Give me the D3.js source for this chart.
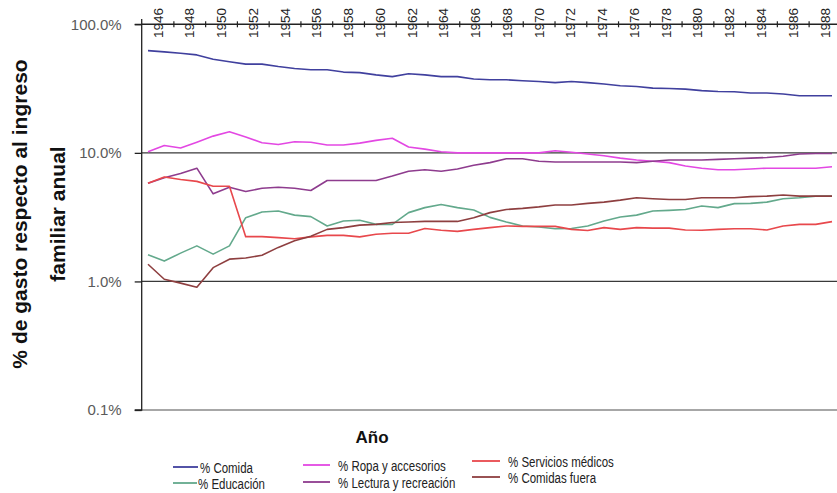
<!DOCTYPE html>
<html><head><meta charset="utf-8">
<script src="https://cdn.jsdelivr.net/npm/d3@7"></script>
<style>body{margin:0;background:#fff}svg{display:block}</style>
</head><body>
<script>
const years = [1946,1947,1948,1949,1950,1951,1952,1953,1954,1955,1956,1957,1958,1959,1960,1961,1962,1963,1964,1965,1966,1967,1968,1969,1970,1971,1972,1973,1974,1975,1976,1977,1978,1979,1980,1981,1982,1983,1984,1985,1986,1987,1988];
const yearLabels = [1946,1948,1950,1952,1954,1956,1958,1960,1962,1964,1966,1968,1970,1972,1974,1976,1978,1980,1982,1984,1986,1988];
const yTicks = [0.1,1,10,100];
const comida = [62.4,61.0,59.6,57.8,53.5,51.1,49.0,49.0,46.9,45.3,44.3, 44.3,42.5,42.1,40.4,39.2,41.2,40.4,39.2,39.2,37.5,37.0, 37.0,36.4,35.9,35.2,35.9,35.2,34.3,33.3,32.8,31.9, 31.7,31.3,30.5,30.0,29.9,29.2,29.2,28.7,27.8,27.8,27.8];
const ropa = [10.2,11.4,10.9,12.1,13.5,14.6,13.3,12.0,11.6,12.2,12.1, 11.5,11.5,11.9,12.5,13.0,11.1,10.7,10.2,10.0,10.0,10.0, 10.0,10.0,10.0,10.4,10.1,9.8,9.5,9.1,8.8,8.6, 8.4,7.9,7.6,7.4,7.4,7.5,7.6,7.6,7.6,7.6,7.8];
const servicios = [5.8,6.5,6.2,6.0,5.5,5.5,2.23,2.23,2.19,2.15,2.22, 2.28,2.28,2.22,2.33,2.37,2.37,2.58,2.50,2.45,2.54,2.62, 2.70,2.68,2.68,2.68,2.54,2.49,2.62,2.54,2.62,2.6, 2.6,2.51,2.5,2.54,2.57,2.57,2.51,2.70,2.78,2.78,2.92];
const educacion = [1.61,1.44,1.66,1.89,1.63,1.89,3.13,3.47,3.53,3.28,3.19, 2.70,2.95,2.99,2.78,2.78,3.43,3.75,3.97,3.75,3.59,3.15, 2.90,2.70,2.65,2.57,2.58,2.70,2.95,3.17,3.28,3.53, 3.57,3.63,3.86,3.75,4.03,4.05,4.14,4.40,4.48,4.61,4.61];
const lectura = [5.8,6.4,6.9,7.6,4.8,5.4,5.0,5.3,5.4,5.3,5.1, 6.1,6.1,6.1,6.1,6.6,7.2,7.4,7.2,7.5,8.0,8.4, 9.0,9.0,8.6,8.5,8.5,8.5,8.5,8.5,8.4,8.6, 8.8,8.8,8.8,8.9,9.0,9.1,9.2,9.4,9.8,9.9,9.9];
const comidasFuera = [1.36,1.04,0.97,0.90,1.28,1.49,1.52,1.60,1.84,2.07,2.25, 2.54,2.62,2.74,2.78,2.87,2.9,2.93,2.93,2.93,3.13,3.43, 3.63,3.7,3.8,3.93,3.93,4.05,4.14,4.29,4.48,4.4, 4.34,4.34,4.48,4.48,4.48,4.57,4.61,4.7,4.61,4.61,4.61];
const seriesNames = ["% Comida","% Educación","% Ropa y accesorios","% Lectura y recreación","% Servicios médicos","% Comidas fuera"];
const seriesColors = ["#40409e","#63a98c","#e348e3","#8e3c8e","#e8484c","#8e3f40"];

const W = 837, H = 493;
const svg = d3.select("body").append("svg").attr("width", W).attr("height", H);
const x = d3.scaleLinear().domain([1946,1988]).range([148,832]);
const xl = d3.scaleLinear().domain([1946,1988]).range([158,825]);
const y = d3.scaleLog().domain([0.1,100]).range([410,24.3]);
const L = 141.7, R = 837;

// gridlines
svg.append("g").selectAll("line").data([1,10]).join("line")
  .attr("x1", L).attr("x2", R).attr("y1", d=>y(d)).attr("y2", d=>y(d))
  .attr("stroke", "#3a3a3a").attr("stroke-width", 1.3);
// bottom line
svg.append("line").attr("x1", L).attr("x2", R).attr("y1", y(0.1)).attr("y2", y(0.1))
  .attr("stroke", "#8a8a8a").attr("stroke-width", 1.6);

// y axis
const yAxis = d3.axisLeft(y).tickValues(yTicks).tickFormat(d => d.toFixed(1) + "%").tickSize(7).tickPadding(13);
const gy = svg.append("g").attr("transform", `translate(${L},0)`).call(yAxis);
gy.select(".domain").attr("stroke", "#222").attr("stroke-width", 1.3).attr("d", `M-7,${y(100)}H0V${y(0.1)}H-7`);
gy.selectAll(".tick line").attr("stroke", "#222").attr("stroke-width", 1.3);
gy.selectAll(".tick text").attr("font-family", "Liberation Sans, Arial, sans-serif").attr("font-size", 15).attr("fill", "#5a5a5a");

// series
const data = [comida, educacion, ropa, lectura, servicios, comidasFuera];
const line = d3.line().x((d,i)=>x(years[i])).y(d=>y(d));
svg.append("g").selectAll("path").data(data).join("path")
  .attr("d", d=>line(d)).attr("fill","none")
  .attr("stroke", (d,i)=>seriesColors[i]).attr("stroke-width", 1.6).attr("stroke-linejoin","round");

// top axis
svg.append("line").attr("x1", L).attr("x2", R).attr("y1", y(100)).attr("y2", y(100))
  .attr("stroke", "#222").attr("stroke-width", 1.5);
svg.append("line").attr("x1", L).attr("x2", L).attr("y1", 19).attr("y2", y(100)).attr("stroke", "#222").attr("stroke-width", 1.3);
svg.append("g").selectAll("line").data(yearLabels.slice(0,-1)).join("line")
  .attr("x1", d=>xl(d+1)).attr("x2", d=>xl(d+1)).attr("y1", y(100)-3).attr("y2", y(100)+3)
  .attr("stroke", "#222").attr("stroke-width", 1.2);
svg.append("g").selectAll("text").data(yearLabels).join("text")
  .attr("transform", d=>`translate(${xl(d)},23) rotate(-90)`)
  .attr("text-anchor","middle").attr("dominant-baseline","central")
  .attr("font-family","Liberation Sans, Arial, sans-serif").attr("font-size", 13.5).attr("fill","#222")
  .text(d=>d);

// axis titles
const yt = svg.append("text").attr("transform","translate(27,214) rotate(-90)")
  .attr("text-anchor","middle").attr("font-family","Liberation Sans, Arial, sans-serif")
  .attr("font-weight","bold").attr("font-size",21).attr("fill","#111");
yt.append("tspan").attr("x",0).attr("y",0).text("% de gasto respecto al ingreso");
yt.append("tspan").attr("x",0).attr("y",38).text("familiar anual");
svg.append("text").attr("x",372).attr("y",443).attr("text-anchor","middle")
  .attr("font-family","Liberation Sans, Arial, sans-serif").attr("font-weight","bold")
  .attr("font-size",17).attr("fill","#111").text("Año");

// legend
const legPos = [[173,198,467,200],[173,197,483,198],[303,330,465,338],[303,330,482,338],[472,500,461,508],[472,500,477,508]];
const lg = svg.append("g").selectAll("g").data(seriesNames).join("g");
lg.append("line").attr("x1",(d,i)=>legPos[i][0]).attr("x2",(d,i)=>legPos[i][1])
  .attr("y1",(d,i)=>legPos[i][2]).attr("y2",(d,i)=>legPos[i][2])
  .attr("stroke",(d,i)=>seriesColors[i]).attr("stroke-width",1.8);
lg.append("text").attr("transform",(d,i)=>`translate(${legPos[i][3]},${legPos[i][2]+1}) scale(0.82,1)`)
  .attr("dominant-baseline","central")
  .attr("font-family","Liberation Sans, Arial, sans-serif").attr("font-size",14)
  .attr("fill","#222").text(d=>d);
</script>
</body></html>
